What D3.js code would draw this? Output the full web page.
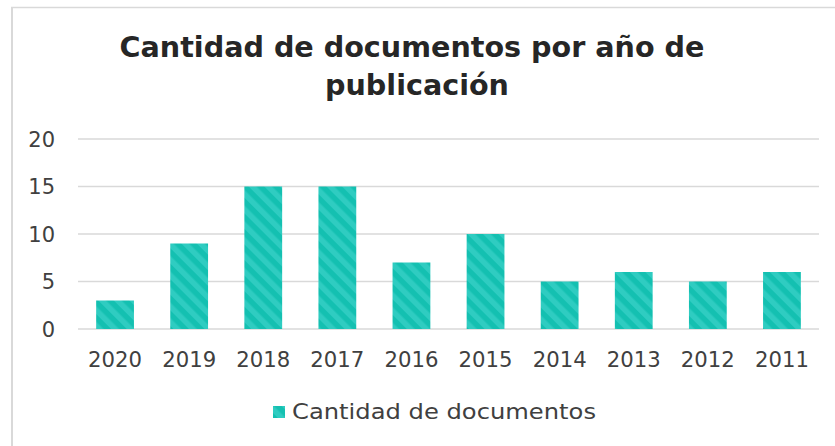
<!DOCTYPE html>
<html>
<head>
<meta charset="utf-8">
<script src="https://cdn.jsdelivr.net/npm/d3@7"></script>
<style>
  html, body { margin: 0; padding: 0; background: #fff; }
  svg { display: block; font-family: 'Century Gothic', 'DejaVu Sans', sans-serif; }
</style>
</head>
<body>
<div id="chart"></div>
<script>
const years = ['2020', '2019', '2018', '2017', '2016', '2015', '2014', '2013', '2012', '2011'];
const counts = [3, 9, 15, 15, 7, 10, 5, 6, 5, 6];
const yTicks = [0, 5, 10, 15, 20];
const seriesName = 'Cantidad de documentos';
const titleLines = ['Cantidad de documentos por año de', 'publicación'];

const width = 835, height = 446;
const margin = { top: 139, right: 16, bottom: 117, left: 78 };

const svg = d3.select('#chart').append('svg').attr('width', width).attr('height', height);
svg.append('rect').attr('width', width).attr('height', height).attr('fill', '#fff');

// outer frame (only top and left edges are in view)
svg.append('line').attr('x1', 11).attr('x2', width).attr('y1', 7.5).attr('y2', 7.5)
  .attr('stroke', '#d9d9d9').attr('stroke-width', 1.5);
svg.append('line').attr('x1', 12).attr('x2', 12).attr('y1', 7).attr('y2', height)
  .attr('stroke', '#d9d9d9').attr('stroke-width', 2);

const defs = svg.append('defs');
const pat = defs.append('pattern').attr('id', 'stripes').attr('patternUnits', 'userSpaceOnUse')
  .attr('width', 11).attr('height', 11).attr('patternTransform', 'rotate(-45)');
pat.append('rect').attr('width', 11).attr('height', 11).attr('fill', '#14c0b1');
pat.append('rect').attr('width', 5.5).attr('height', 11).attr('fill', '#2fccc1');

const x = d3.scaleBand().domain(years).range([margin.left, width - margin.right]).paddingInner(0.49).paddingOuter(0.245);
const y = d3.scaleLinear().domain([0, 20]).range([height - margin.bottom, margin.top]);

// gridlines
svg.append('g').selectAll('line').data(yTicks).join('line')
  .attr('x1', margin.left).attr('x2', width - margin.right)
  .attr('y1', d => y(d)).attr('y2', d => y(d))
  .attr('stroke', '#d9d9d9').attr('stroke-width', 1.5);

// y labels
svg.append('g').selectAll('text').data(yTicks).join('text')
  .attr('x', 55).attr('y', d => y(d)).attr('dy', '0.36em')
  .attr('text-anchor', 'end').attr('font-size', 21).attr('fill', '#404040')
  .text(d => d);

// bars
svg.append('g').selectAll('rect').data(counts).join('rect')
  .attr('x', (d, i) => x(years[i])).attr('width', x.bandwidth())
  .attr('y', d => y(d)).attr('height', d => y(0) - y(d))
  .attr('fill', 'url(#stripes)');

// x labels
svg.append('g').selectAll('text').data(years).join('text')
  .attr('x', d => x(d) + x.bandwidth() / 2).attr('y', 367)
  .attr('text-anchor', 'middle').attr('font-size', 22).attr('fill', '#404040')
  .attr('textLength', 54).attr('lengthAdjust', 'spacingAndGlyphs')
  .text(d => d);

// title
svg.append('g').selectAll('text').data(titleLines).join('text')
  .attr('x', (d, i) => i === 0 ? 412 : 417).attr('y', (d, i) => 57 + i * 38)
  .attr('text-anchor', 'middle').attr('font-size', 29).attr('font-weight', 'bold').attr('fill', '#262626')
  .attr('textLength', (d, i) => i === 0 ? 585 : 184).attr('lengthAdjust', 'spacingAndGlyphs')
  .text(d => d);

// legend
const lg = svg.append('g');
lg.append('rect').attr('x', 273).attr('y', 406).attr('width', 12).attr('height', 12).attr('fill', 'url(#stripes)');
lg.append('text').attr('x', 292).attr('y', 419).attr('font-size', 22).attr('fill', '#404040')
  .attr('textLength', 304).attr('lengthAdjust', 'spacingAndGlyphs').text(seriesName);
</script>
</body>
</html>
